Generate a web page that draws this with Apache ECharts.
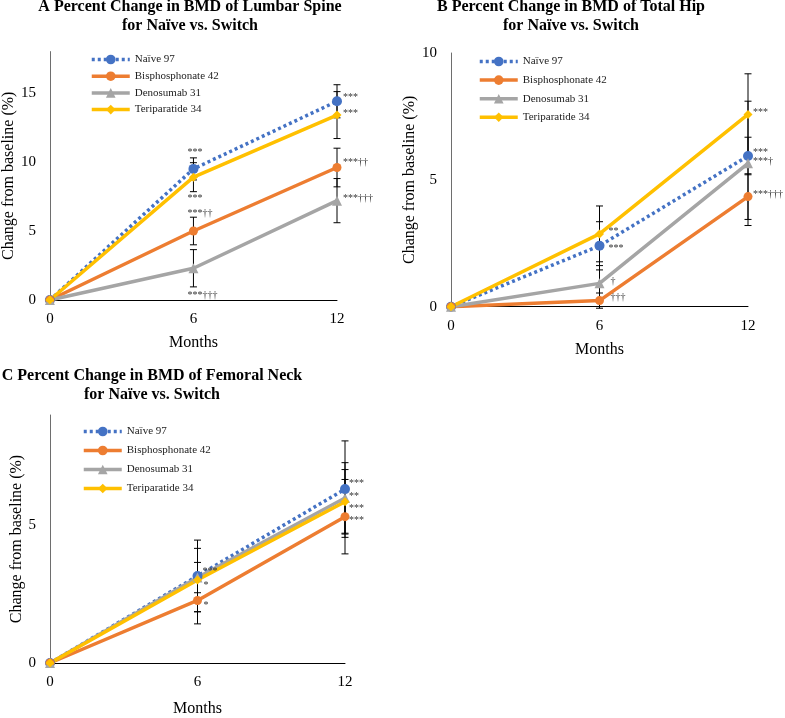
<!DOCTYPE html>
<html>
<head>
<meta charset="utf-8">
<script src="https://cdn.jsdelivr.net/npm/echarts@6/dist/echarts.min.js"></script>
<style>html,body{margin:0;padding:0;background:#fff}#c{width:785px;height:718px}</style>
</head>
<body>
<div id="c"></div>
<script>
// ---------------- data ----------------
const months = [0, 6, 12];
const seriesNames = ['Naïve 97', 'Bisphosphonate 42', 'Denosumab 31', 'Teriparatide 34'];
const panelTitles = [
  'A Percent Change in BMD of Lumbar Spine\nfor Naïve vs. Switch',
  'B Percent Change in BMD of Total Hip\nfor Naïve vs. Switch',
  'C Percent Change in BMD of Femoral Neck\nfor Naïve vs. Switch'
];
const xAxisName = 'Months';
const yAxisName = 'Change from baseline (%)';

// Lumbar spine (A)
const lumbarNaive = [0, 9.5, 14.4];
const lumbarBis   = [0, 5.0, 9.6];
const lumbarDeno  = [0, 2.3, 7.2];
const lumbarTeri  = [0, 8.9, 13.4];
const lumbarNaiveErr = [0, 0.8, 1.2];
const lumbarBisErr   = [0, 1.0, 1.4];
const lumbarDenoErr  = [0, 1.35, 1.6];
const lumbarTeriErr  = [0, 1.05, 1.7];
// [series index, month, placement, text]
const lumbarNotes = [
  [0, 6, 'above', '***'], [3, 6, 'below', '***'], [1, 6, 'above', '***††'], [2, 6, 'below', '***†††'],
  [0, 12, 'right', '***'], [3, 12, 'right', '***'], [1, 12, 'right', '***††'], [2, 12, 'right', '***†††']
];

// Total hip (B)
const hipNaive = [0, 2.4, 5.94];
const hipBis   = [0, 0.24, 4.34];
const hipDeno  = [0, 0.92, 5.65];
const hipTeri  = [0, 2.87, 7.58];
const hipNaiveErr = [0, 0.95, 0.74];
const hipBisErr   = [0, 0.3, 0.9];
const hipDenoErr  = [0, 0.7, 2.45];
const hipTeriErr  = [0, 1.1, 1.6];
const hipNotes = [
  [3, 6, 'right', '**'], [0, 6, 'right', '***'], [2, 6, 'right', '†'], [1, 6, 'right', '†††'],
  [3, 12, 'right', '***'], [0, 12, 'right', '***'], [2, 12, 'right', '***†'], [1, 12, 'right', '***†††']
];

// Femoral neck (C)
const neckNaive = [0, 3.16, 6.31];
const neckBis   = [0, 2.27, 5.31];
const neckDeno  = [0, 3.1, 5.99];
const neckTeri  = [0, 3.01, 5.85];
const neckNaiveErr = [0, 1.3, 1.75];
const neckBisErr   = [0, 0.85, 1.35];
const neckDenoErr  = [0, 0.55, 1.28];
const neckTeriErr  = [0, 1.15, 1.17];
const neckNotes = [
  [0, 6, 'right', '***'], [3, 6, 'right', '*'], [1, 6, 'right', '*'],
  [0, 12, 'right', '***'], [2, 12, 'right', '**'], [3, 12, 'right', '***'], [1, 12, 'right', '***']
];

// ---------------- styling / layout ----------------
const SERIF = '"Liberation Serif", "Times New Roman", serif';
const lumbarNudge = [[-6,-5],[-6,7],[-6,-4],[-6,8],[6,-4],[6,-2],[6,-5],[6,-2]];
const hipNudge    = [[9,-3],[9,3],[11,-2],[11,-3],[5,-2],[5,-4],[5,-2],[5,-2]];
const neckNudge   = [[5,-5],[6,5],[6,5],[4,-6],[4,-2],[4,7],[4,4]];

const panels = [
  { vals: [lumbarNaive, lumbarBis, lumbarDeno, lumbarTeri], errs: [lumbarNaiveErr, lumbarBisErr, lumbarDenoErr, lumbarTeriErr],
    notes: lumbarNotes, nudge: lumbarNudge, yMax: 18,
    grid: { left: 49, top: 51.6, width: 288, height: 248.4 }, titleX: 190, titleY: -3,
    legend: { left: 90, top: 54, itemGap: 5.7 }, yNameGap: 25, xNameGap: 35 },
  { vals: [hipNaive, hipBis, hipDeno, hipTeri], errs: [hipNaiveErr, hipBisErr, hipDenoErr, hipTeriErr],
    notes: hipNotes, nudge: hipNudge, yMax: 10,
    grid: { left: 451, top: 53, width: 297, height: 253.7 }, titleX: 571, titleY: -3,
    legend: { left: 478, top: 56, itemGap: 7.6 }, yNameGap: 32, xNameGap: 35 },
  { vals: [neckNaive, neckBis, neckDeno, neckTeri], errs: [neckNaiveErr, neckBisErr, neckDenoErr, neckTeriErr],
    notes: neckNotes, nudge: neckNudge, yMax: 9,
    grid: { left: 50, top: 415, width: 295, height: 254 }, titleX: 152, titleY: 366,
    legend: { left: 82, top: 426, itemGap: 8 }, yNameGap: 24, xNameGap: 38 }
];

const lineStyles = [
  { color: '#4472C4', type: [3, 3], symbol: 'circle', size: 10 },
  { color: '#ED7D31', type: 'solid', symbol: 'circle', size: 9 },
  { color: '#A5A5A5', type: 'solid', symbol: 'triangle', size: 10 },
  { color: '#FFC000', type: 'solid', symbol: 'diamond', size: 9 }
];

const grids = [], xAxes = [], yAxes = [], series = [], legends = [], graphics = [];

panels.forEach((p, gi) => {
  grids.push(Object.assign({ containLabel: false }, p.grid));
  xAxes.push({
    type: 'value', gridIndex: gi, min: 0, max: 12, interval: 6,
    name: xAxisName, nameLocation: 'middle', nameGap: p.xNameGap,
    nameTextStyle: { fontFamily: SERIF, fontSize: 16, color: '#000' },
    axisLine: { show: true, lineStyle: { color: '#000', width: 1 } },
    axisTick: { show: false }, splitLine: { show: false },
    axisLabel: { fontFamily: SERIF, fontSize: 15, color: '#000', margin: 12 }
  });
  yAxes.push({
    type: 'value', gridIndex: gi, min: 0, max: p.yMax, interval: 5,
    name: yAxisName, nameLocation: 'middle', nameGap: p.yNameGap, nameRotate: 90,
    nameTextStyle: { fontFamily: SERIF, fontSize: 16, color: '#000' },
    axisLine: { show: true, lineStyle: { color: '#6e6e6e', width: 1 } },
    axisTick: { show: false }, splitLine: { show: false },
    axisLabel: { fontFamily: SERIF, fontSize: 15, color: '#000', margin: 14, showMaxLabel: p.yMax % 5 === 0 }
  });

  // error bars
  const errData = [];
  p.vals.forEach((v, si) => {
    months.forEach((m, k) => {
      if (p.errs[si][k] > 0) errData.push([m, v[k] - p.errs[si][k], v[k] + p.errs[si][k]]);
    });
  });
  series.push({
    type: 'custom', xAxisIndex: gi, yAxisIndex: gi, silent: true, z: 1,
    data: errData,
    renderItem: (params, api) => {
      const x = api.value(0);
      const lo = api.coord([x, api.value(1)]);
      const hi = api.coord([x, api.value(2)]);
      const c = 3.5;
      const st = { stroke: '#000', lineWidth: 1 };
      return { type: 'group', children: [
        { type: 'line', shape: { x1: lo[0], y1: lo[1], x2: hi[0], y2: hi[1] }, style: st },
        { type: 'line', shape: { x1: hi[0] - c, y1: hi[1], x2: hi[0] + c, y2: hi[1] }, style: st },
        { type: 'line', shape: { x1: lo[0] - c, y1: lo[1], x2: lo[0] + c, y2: lo[1] }, style: st }
      ]};
    }
  });

  // lines
  p.vals.forEach((v, si) => {
    const ls = lineStyles[si];
    series.push({
      type: 'line', name: seriesNames[si], xAxisIndex: gi, yAxisIndex: gi, z: 3,
      data: months.map((m, k) => [m, v[k]]),
      symbol: ls.symbol, symbolSize: ls.size, showSymbol: true,
      lineStyle: { color: ls.color, width: 3.5, type: ls.type, cap: 'butt' },
      itemStyle: { color: ls.color },
      animation: false
    });
  });

  // annotations
  const noteData = p.notes.map(n => {
    const [si, m, place] = n;
    const k = months.indexOf(m);
    const v = p.vals[si][k], e = p.errs[si][k];
    return [m, place === 'above' ? v + e : place === 'below' ? v - e : v];
  });
  series.push({
    type: 'custom', xAxisIndex: gi, yAxisIndex: gi, silent: true, z: 5,
    data: noteData,
    renderItem: (params, api) => {
      const n = p.notes[params.dataIndex];
      const d = p.nudge[params.dataIndex];
      const pt = api.coord([api.value(0), api.value(1)]);
      return { type: 'text', x: pt[0] + d[0], y: pt[1] + d[1],
        style: { text: n[3], fill: '#333', font: '10px ' + SERIF, align: 'left', verticalAlign: 'middle' } };
    }
  });

  legends.push({
    orient: 'vertical', left: p.legend.left, top: p.legend.top, itemGap: p.legend.itemGap,
    itemWidth: 38, itemHeight: 12, padding: 0,
    data: seriesNames, selectedMode: false,
    lineStyle: { width: 3.5 },
    textStyle: { fontFamily: SERIF, fontSize: 11, color: '#222' }
  });

  graphics.push({
    type: 'text', x: p.titleX, y: p.titleY,
    style: { text: panelTitles[gi], font: 'bold 16px ' + SERIF, fill: '#000', align: 'center', verticalAlign: 'top', lineHeight: 19 }
  });
});

const chart = echarts.init(document.getElementById('c'), null, { renderer: 'canvas' });
chart.setOption({
  animation: false,
  backgroundColor: '#fff',
  grid: grids, xAxis: xAxes, yAxis: yAxes, series: series, legend: legends, graphic: graphics
});
</script>
</body>
</html>
